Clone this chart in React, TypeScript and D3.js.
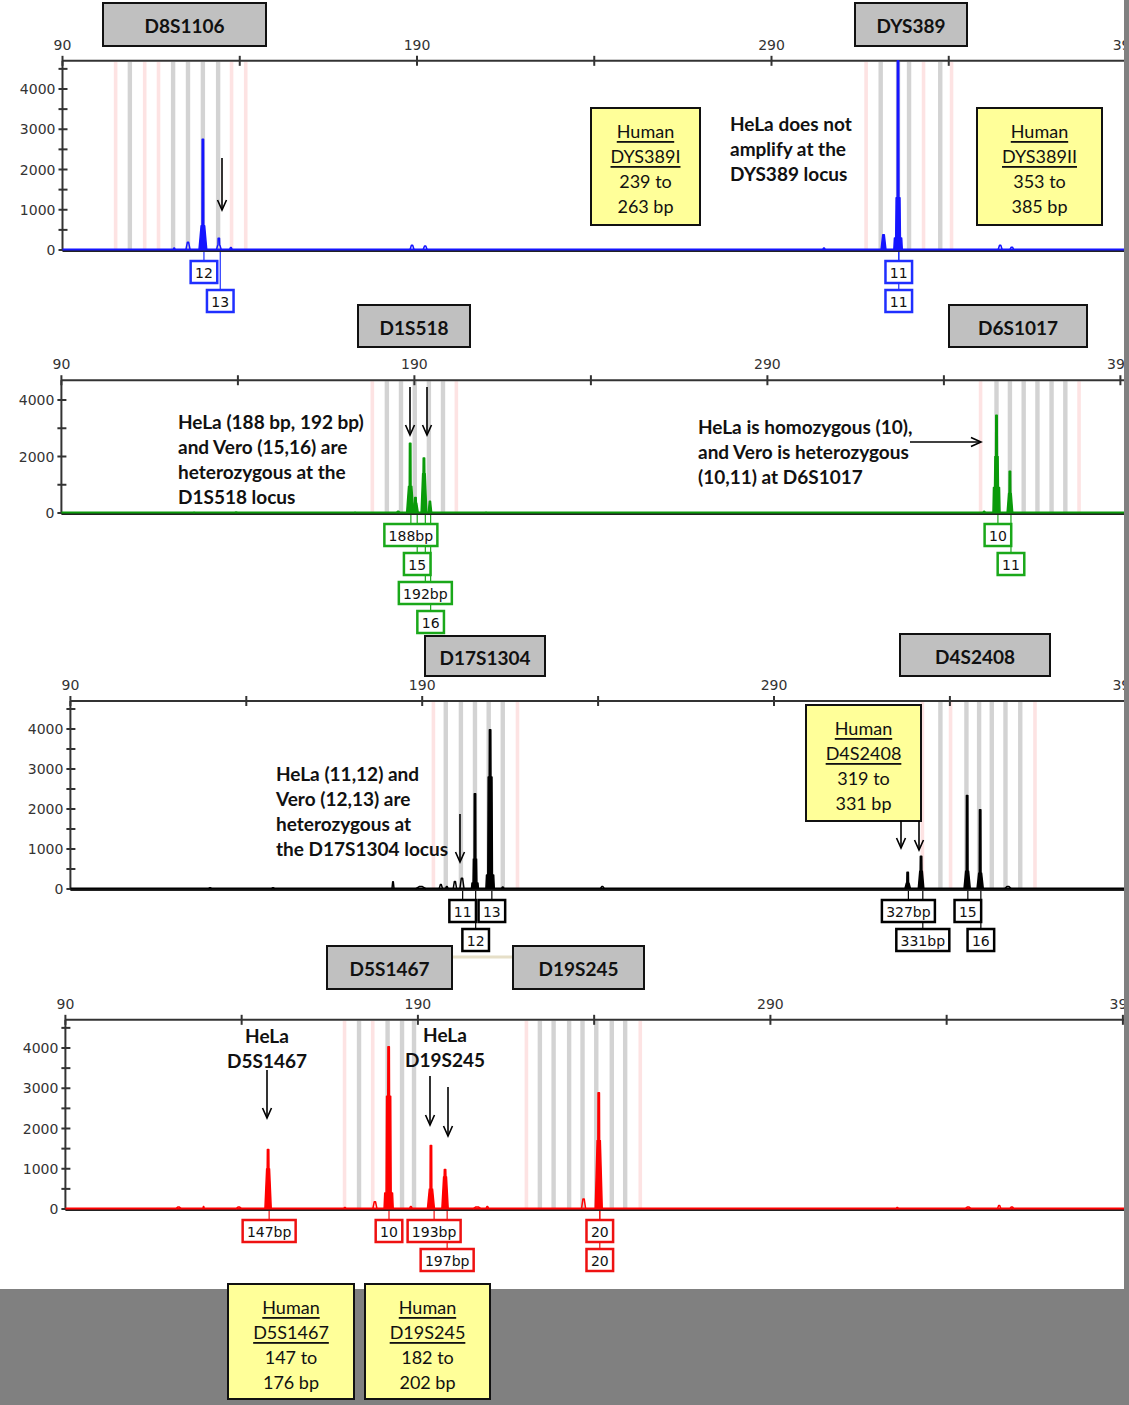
import React from 'react';
import * as d3 from 'd3';

type Bin = { bp: number; kind: 'g' | 'p' };
type Peak = { bp: number; h: number; s?: number; s2?: number; w?: number };
type Allele = { bp: number; text: string; row: number };

// ---------- data ----------
const xTicks = [90, 140, 190, 240, 290, 340, 390];
const xTickLabels = [90, 190, 290, 390];
const yTicksFine = [0, 500, 1000, 1500, 2000, 2500, 3000, 3500, 4000, 4500];
const yLabelsFine = [0, 1000, 2000, 3000, 4000];
const yTicksCoarse = [0, 1000, 2000, 3000, 4000];
const yLabelsCoarse = [0, 2000, 4000];
const yMax = 4700;

const p1Bins: Bin[] = [
  { bp: 105.1, kind: 'p' }, { bp: 109.0, kind: 'g' }, { bp: 113.3, kind: 'p' }, { bp: 117.2, kind: 'p' },
  { bp: 121.2, kind: 'g' }, { bp: 125.4, kind: 'g' }, { bp: 129.6, kind: 'g' }, { bp: 133.9, kind: 'g' },
  { bp: 137.8, kind: 'p' }, { bp: 141.8, kind: 'p' },
  { bp: 316.8, kind: 'p' }, { bp: 320.8, kind: 'g' }, { bp: 325.7, kind: 'g' }, { bp: 328.8, kind: 'g' },
  { bp: 333.0, kind: 'p' }, { bp: 337.6, kind: 'g' }, { bp: 340.9, kind: 'p' },
];
const p2Bins: Bin[] = [
  { bp: 178.2, kind: 'p' }, { bp: 182.2, kind: 'g' }, { bp: 186.2, kind: 'g' }, { bp: 190.1, kind: 'g' },
  { bp: 194.1, kind: 'g' }, { bp: 198.1, kind: 'g' }, { bp: 202.0, kind: 'p' },
  { bp: 350.5, kind: 'p' }, { bp: 354.9, kind: 'g' }, { bp: 358.7, kind: 'g' }, { bp: 362.6, kind: 'g' },
  { bp: 366.5, kind: 'g' }, { bp: 370.5, kind: 'g' }, { bp: 374.4, kind: 'g' }, { bp: 378.4, kind: 'p' },
];
const p3Bins: Bin[] = [
  { bp: 193.3, kind: 'p' }, { bp: 196.7, kind: 'g' }, { bp: 201.0, kind: 'g' }, { bp: 205.0, kind: 'g' },
  { bp: 208.9, kind: 'g' }, { bp: 212.9, kind: 'g' }, { bp: 217.2, kind: 'p' },
  { bp: 332.3, kind: 'p' }, { bp: 337.3, kind: 'g' }, { bp: 340.3, kind: 'p' }, { bp: 344.7, kind: 'g' },
  { bp: 348.3, kind: 'g' }, { bp: 351.9, kind: 'g' }, { bp: 355.8, kind: 'g' }, { bp: 360.0, kind: 'g' },
  { bp: 364.3, kind: 'p' },
];
const p4Bins: Bin[] = [
  { bp: 169.3, kind: 'p' }, { bp: 173.3, kind: 'g' }, { bp: 177.3, kind: 'p' }, { bp: 181.4, kind: 'g' },
  { bp: 185.5, kind: 'g' }, { bp: 188.9, kind: 'g' },
  { bp: 220.9, kind: 'p' }, { bp: 224.6, kind: 'g' }, { bp: 228.5, kind: 'g' }, { bp: 232.9, kind: 'g' },
  { bp: 236.7, kind: 'g' }, { bp: 240.6, kind: 'g' }, { bp: 245.0, kind: 'g' }, { bp: 248.8, kind: 'g' },
  { bp: 253.2, kind: 'p' },
];

const p1Peaks: Peak[] = [
  { bp: 129.6, h: 2750, s: 600, w: 1.1 }, { bp: 134.1, h: 290, s: 120, w: 0.7 },
  { bp: 125.4, h: 190, w: 0.6 }, { bp: 121.5, h: 50, w: 0.3 }, { bp: 137.5, h: 60, w: 0.4 },
  { bp: 188.6, h: 120, w: 0.6 }, { bp: 192.3, h: 100, w: 0.6 },
  { bp: 325.7, h: 4800, s: 1300, s2: 300, w: 1.2 }, { bp: 321.6, h: 380, w: 0.7 },
  { bp: 304.8, h: 50, w: 0.4 }, { bp: 354.5, h: 120, w: 0.6 }, { bp: 357.8, h: 70, w: 0.6 },
];
const p2Peaks: Peak[] = [
  { bp: 188.8, h: 2470, s: 950, w: 1.0 }, { bp: 190.3, h: 550, s: 350, w: 0.8 },
  { bp: 192.7, h: 1950, s: 1400, w: 0.8 }, { bp: 194.4, h: 420, w: 0.5 },
  { bp: 185.4, h: 60, w: 0.5 }, { bp: 139.5, h: 30, w: 0.4 }, { bp: 127.6, h: 20, w: 0.3 },
  { bp: 173.2, h: 20, w: 0.3 }, { bp: 210.3, h: 20, w: 0.3 },
  { bp: 354.9, h: 3460, s: 2000, s2: 900, w: 1.0 }, { bp: 358.7, h: 1480, s: 700, w: 0.8 },
  { bp: 351.4, h: 60, w: 0.4 },
];
const p3Peaks: Peak[] = [
  { bp: 201.3, h: 270, w: 0.6 }, { bp: 199.3, h: 190, w: 0.5 }, { bp: 195.3, h: 110, w: 0.5 },
  { bp: 197.0, h: 60, w: 0.4 }, { bp: 189.6, h: 60, w: 1.5 }, { bp: 181.7, h: 180, w: 0.3 },
  { bp: 129.7, h: 30, w: 0.5 }, { bp: 147.6, h: 30, w: 0.5 }, { bp: 212.9, h: 50, w: 0.4 },
  { bp: 205.0, h: 2380, s: 750, s2: 150, w: 1.0 }, { bp: 209.3, h: 3980, s: 2800, s2: 350, w: 1.2 },
  { bp: 328.0, h: 420, s: 150, w: 0.8 }, { bp: 331.8, h: 820, s: 450, w: 0.8 },
  { bp: 344.9, h: 2340, s: 450, w: 0.9 }, { bp: 348.6, h: 1980, s: 400, w: 0.9 },
  { bp: 356.5, h: 60, w: 1.0 }, { bp: 241.2, h: 60, w: 0.6 },
];
const p4Peaks: Peak[] = [
  { bp: 147.5, h: 1480, s: 1000, w: 0.9 }, { bp: 181.7, h: 4030, s: 2800, s2: 400, w: 1.3 },
  { bp: 193.7, h: 1580, s: 500, w: 1.0 }, { bp: 197.7, h: 980, s: 800, w: 0.9 },
  { bp: 241.3, h: 2890, s: 1700, w: 1.0 }, { bp: 237.0, h: 250, w: 0.6 },
  { bp: 177.8, h: 180, w: 0.6 }, { bp: 122.1, h: 50, w: 0.8 }, { bp: 129.2, h: 60, w: 0.2 },
  { bp: 139.2, h: 50, w: 0.8 }, { bp: 169.3, h: 40, w: 0.3 }, { bp: 188.0, h: 60, w: 0.4 },
  { bp: 206.8, h: 50, w: 1.2 }, { bp: 209.7, h: 60, w: 0.4 }, { bp: 326.0, h: 40, w: 0.3 },
  { bp: 346.1, h: 50, w: 0.9 }, { bp: 354.9, h: 90, w: 0.5 }, { bp: 358.5, h: 50, w: 0.6 },
];

const p1Alleles: Allele[] = [
  { bp: 129.9, text: '12', row: 0 }, { bp: 134.5, text: '13', row: 1 },
  { bp: 325.9, text: '11', row: 0 }, { bp: 325.9, text: '11', row: 1 },
];
const p2Alleles: Allele[] = [
  { bp: 189.0, text: '188bp', row: 0 }, { bp: 190.8, text: '15', row: 1 },
  { bp: 193.1, text: '192bp', row: 2 }, { bp: 194.6, text: '16', row: 3 },
  { bp: 355.3, text: '10', row: 0 }, { bp: 359.0, text: '11', row: 1 },
];
const p3Alleles: Allele[] = [
  { bp: 201.5, text: '11', row: 0 }, { bp: 209.8, text: '13', row: 0 }, { bp: 205.2, text: '12', row: 1 },
  { bp: 328.2, text: '327bp', row: 0 }, { bp: 332.3, text: '331bp', row: 1 },
  { bp: 345.1, text: '15', row: 0 }, { bp: 348.8, text: '16', row: 1 },
];
const p4Alleles: Allele[] = [
  { bp: 147.8, text: '147bp', row: 0 }, { bp: 181.8, text: '10', row: 0 },
  { bp: 194.6, text: '193bp', row: 0 }, { bp: 198.3, text: '197bp', row: 1 },
  { bp: 241.6, text: '20', row: 0 }, { bp: 241.6, text: '20', row: 1 },
];

// ---------- layout ----------
type Layout = { zero: number; y4000: number; x0: number; k: number; color: string; box: string };
const L1: Layout = { zero: 250, y4000: 89, x0: 62.5, k: 3.545, color: '#1515ff', box: '#1f2fff' };
const L2: Layout = { zero: 513, y4000: 400, x0: 61.4, k: 3.53, color: '#0a9a0a', box: '#1aa81a' };
const L3: Layout = { zero: 889, y4000: 729, x0: 70.4, k: 3.518, color: '#000000', box: '#000000' };
const L4: Layout = { zero: 1209, y4000: 1048, x0: 65.4, k: 3.525, color: '#ff0000', box: '#ee1111' };
const PLOT_RIGHT = 1125;

const AXIS_FONT = "'DejaVu Sans', Verdana, sans-serif";
const TEXT_FONT = "Lato, 'Open Sans', sans-serif";

function peakPoints(p: Peak): [number, number][] {
  const w = p.w ?? 0.6;
  const pts: [number, number][] = [[p.bp - w, 0]];
  if (p.s !== undefined) {
    if (p.s2 !== undefined) pts.push([p.bp - w * 0.85, p.s2], [p.bp - w * 0.55, p.s2]);
    pts.push([p.bp - w * 0.45, p.s], [p.bp - 0.25, p.s]);
    pts.push([p.bp - 0.2, p.h], [p.bp + 0.2, p.h]);
    pts.push([p.bp + 0.25, p.s], [p.bp + w * 0.45, p.s]);
    if (p.s2 !== undefined) pts.push([p.bp + w * 0.55, p.s2], [p.bp + w * 0.85, p.s2]);
  } else {
    pts.push([p.bp - w * 0.3, p.h], [p.bp + w * 0.3, p.h]);
  }
  pts.push([p.bp + w, 0]);
  return pts;
}

function Panel({ L, bins, peaks, alleles, fine }: { L: Layout; bins: Bin[]; peaks: Peak[]; alleles: Allele[]; fine: boolean }) {
  const x = d3.scaleLinear().domain([90, 390]).range([L.x0, L.x0 + 300 * L.k]);
  const y = d3.scaleLinear().domain([0, 4000]).range([L.zero, L.y4000]);
  const top = y(yMax);
  const line = d3.line<[number, number]>().x((d) => x(d[0])).y((d) => y(Math.min(d[1], yMax)));
  const yTicks = fine ? yTicksFine : yTicksCoarse;
  const yLabels = fine ? yLabelsFine : yLabelsCoarse;
  const boxW = (t: string) => t.length * 8.8 + 9;
  return (
    <g>
      {bins.map((b, i) => (
        <rect key={'b' + i} x={x(b.bp) - 2.2} width={b.kind === 'g' ? 4.4 : 3.6} y={top + 1} height={L.zero - top - 1}
          fill={b.kind === 'g' ? '#d3d3d3' : '#fde3e3'} />
      ))}
      {/* x axis top */}
      <line x1={L.x0} x2={PLOT_RIGHT} y1={top} y2={top} stroke="#333" strokeWidth={2} />
      {xTicks.map((t) => (
        <line key={'xt' + t} x1={x(t)} x2={x(t)} y1={top - 5} y2={top + 5} stroke="#333" strokeWidth={2} />
      ))}
      {xTickLabels.map((t) => (
        <text key={'xl' + t} x={x(t)} y={top - 16} textAnchor="middle" dominantBaseline="central"
          fontFamily={AXIS_FONT} fontSize={14} fill="#333">{t}</text>
      ))}
      {/* y axis */}
      <line x1={L.x0} x2={L.x0} y1={top} y2={L.zero} stroke="#333" strokeWidth={2} />
      {yTicks.map((t) => (
        <line key={'yt' + t} x1={L.x0 - 4} x2={L.x0 + 5} y1={y(t)} y2={y(t)} stroke="#333" strokeWidth={2} />
      ))}
      {yLabels.map((t) => (
        <text key={'yl' + t} x={L.x0 - 7} y={y(t)} textAnchor="end" dominantBaseline="central"
          fontFamily={AXIS_FONT} fontSize={14} fill="#333">{t}</text>
      ))}
      {/* baseline */}
      <line x1={L.x0} x2={PLOT_RIGHT} y1={L.zero + 1} y2={L.zero + 1} stroke="#222" strokeWidth={2} />
      <line x1={L.x0} x2={PLOT_RIGHT} y1={L.zero - 0.5} y2={L.zero - 0.5} stroke={L.color} strokeWidth={2} />
      {peaks.map((p, i) => (
        <path key={'p' + i} d={line(peakPoints(p)) || ''} fill={p.h > 300 ? L.color : 'none'} stroke={L.color}
          strokeWidth={1.5} strokeLinejoin="round" />
      ))}
      {/* allele connectors */}
      {alleles.map((a, i) => (
        <line key={'c' + i} x1={x(a.bp)} x2={x(a.bp)} y1={L.zero + 2} y2={L.zero + 10 + a.row * 29}
          stroke={L.box} strokeWidth={1.2} />
      ))}
      {alleles.map((a, i) => {
        const w = boxW(a.text);
        const by = L.zero + 11 + a.row * 29;
        return (
          <g key={'a' + i}>
            <rect x={x(a.bp) - w / 2} y={by} width={w} height={22} fill="#fff" stroke={L.box} strokeWidth={2.5} />
            <text x={x(a.bp)} y={by + 11.5} textAnchor="middle" dominantBaseline="central"
              fontFamily={AXIS_FONT} fontSize={14} fill="#111">{a.text}</text>
          </g>
        );
      })}
    </g>
  );
}

function Arrow({ x1, y1, x2, y2 }: { x1: number; y1: number; x2: number; y2: number }) {
  const a = Math.atan2(y2 - y1, x2 - x1);
  const s = 11, sp = 0.42;
  const h1 = [x2 - s * Math.cos(a - sp), y2 - s * Math.sin(a - sp)];
  const h2 = [x2 - s * Math.cos(a + sp), y2 - s * Math.sin(a + sp)];
  return (
    <g stroke="#000" strokeWidth={1.6} fill="none">
      <line x1={x1} y1={y1} x2={x2} y2={y2} />
      <polyline points={`${h1[0]},${h1[1]} ${x2},${y2} ${h2[0]},${h2[1]}`} />
    </g>
  );
}

function TitleBox({ x, y, w, h, text }: { x: number; y: number; w: number; h: number; text: string }) {
  return (
    <g>
      <rect x={x} y={y} width={w} height={h} fill="#c0c0c0" stroke="#111" strokeWidth={2} />
      <text x={x + w / 2} y={y + h / 2 + 1} textAnchor="middle" dominantBaseline="central"
        fontFamily={TEXT_FONT} fontWeight={700} fontSize={19} fill="#111">{text}</text>
    </g>
  );
}

function YellowBox({ x, y, w, h, lines }: { x: number; y: number; w: number; h: number; lines: string[] }) {
  const cx = x + w / 2;
  const y0 = y + 23;
  return (
    <g>
      <rect x={x} y={y} width={w} height={h} fill="#ffff99" stroke="#111" strokeWidth={2} />
      {lines.map((l, i) => (
        <text key={i} x={cx} y={y0 + i * 25} textAnchor="middle" dominantBaseline="central"
          fontFamily={TEXT_FONT} fontSize={18} fill="#111"
          style={{ textDecoration: i < 2 ? 'underline' : 'none' }}>{l}</text>
      ))}
    </g>
  );
}

function Note({ x, y, lines, anchor = 'start' }: { x: number; y: number; lines: string[]; anchor?: string }) {
  return (
    <g>
      {lines.map((l, i) => (
        <text key={i} x={x} y={y + i * 25} textAnchor={anchor} dominantBaseline="central"
          fontFamily={TEXT_FONT} fontWeight={700} fontSize={19} fill="#111">{l}</text>
      ))}
    </g>
  );
}

export default function App() {
  return (
    <svg width={1129} height={1405} viewBox="0 0 1129 1405"
      style={{ position: 'absolute', left: 0, top: 0, display: 'block', background: '#fff' }}>
      <rect x={0} y={0} width={1129} height={1405} fill="#fff" />

      <Panel L={L1} bins={p1Bins} peaks={p1Peaks} alleles={p1Alleles} fine={true} />
      <Panel L={L2} bins={p2Bins} peaks={p2Peaks} alleles={p2Alleles} fine={false} />
      <Panel L={L3} bins={p3Bins} peaks={p3Peaks} alleles={p3Alleles} fine={true} />
      <Panel L={L4} bins={p4Bins} peaks={p4Peaks} alleles={p4Alleles} fine={true} />

      {/* panel 1 */}
      <TitleBox x={103} y={3} w={163} h={43} text="D8S1106" />
      <TitleBox x={855} y={3} w={112} h={43} text="DYS389" />
      <YellowBox x={591} y={108} w={109} h={117} lines={['Human', 'DYS389I', '239 to', '263 bp']} />
      <YellowBox x={977} y={108} w={125} h={117} lines={['Human', 'DYS389II', '353 to', '385 bp']} />
      <Note x={730} y={123} lines={['HeLa does not', 'amplify at the', 'DYS389 locus']} />
      <Arrow x1={222} y1={158} x2={222} y2={210} />

      {/* panel 2 */}
      <TitleBox x={358} y={305} w={112} h={42} text="D1S518" />
      <TitleBox x={949} y={305} w={138} h={42} text="D6S1017" />
      <Note x={178} y={421} lines={['HeLa (188 bp, 192 bp)', 'and Vero (15,16) are', 'heterozygous at the', 'D1S518 locus']} />
      <Note x={698} y={426} lines={['HeLa is homozygous (10),', 'and Vero is heterozygous', '(10,11) at D6S1017']} />
      <Arrow x1={410} y1={387} x2={410} y2={435} />
      <Arrow x1={427} y1={387} x2={427} y2={435} />
      <Arrow x1={910} y1={442} x2={981} y2={442} />

      {/* panel 3 */}
      <TitleBox x={425} y={636} w={120} h={40} text="D17S1304" />
      <TitleBox x={900} y={634} w={150} h={42} text="D4S2408" />
      <Note x={276} y={773} lines={['HeLa (11,12) and', 'Vero (12,13) are', 'heterozygous at', 'the D17S1304 locus']} />
      <YellowBox x={806} y={705} w={115} h={116} lines={['Human', 'D4S2408', '319 to', '331 bp']} />
      <Arrow x1={460} y1={814} x2={460} y2={862} />
      <Arrow x1={901} y1={821} x2={901} y2={848} />
      <Arrow x1={919} y1={821} x2={919} y2={850} />

      {/* panel 4 */}
      <line x1={452} x2={512} y1={957} y2={957} stroke="#e6dfc8" strokeWidth={3} />
      <TitleBox x={327} y={946} w={125} h={43} text="D5S1467" />
      <TitleBox x={513} y={946} w={131} h={43} text="D19S245" />
      <Note x={267} y={1035} anchor="middle" lines={['HeLa', 'D5S1467']} />
      <Note x={445} y={1034} anchor="middle" lines={['HeLa', 'D19S245']} />
      <Arrow x1={267} y1={1070} x2={267} y2={1118} />
      <Arrow x1={430} y1={1076} x2={430} y2={1125} />
      <Arrow x1={448} y1={1087} x2={448} y2={1136} />

      {/* gray frame */}
      <rect x={1124} y={0} width={5} height={1405} fill="#808080" />
      <rect x={0} y={1289} width={1129} height={116} fill="#808080" />
      <YellowBox x={228} y={1284} w={126} h={115} lines={['Human', 'D5S1467', '147 to', '176 bp']} />
      <YellowBox x={365} y={1284} w={125} h={115} lines={['Human', 'D19S245', '182 to', '202 bp']} />
    </svg>
  );
}
